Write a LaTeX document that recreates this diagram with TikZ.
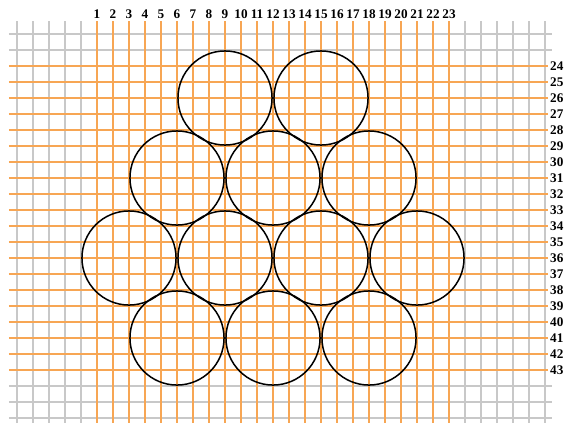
\documentclass[tikz,border=0pt]{standalone}
\usepackage{fontspec}
\setmainfont{Liberation Serif}
\definecolor{linegray}{RGB}{200,200,200}
\definecolor{lineorange}{RGB}{247,166,84}
\tikzset{
    grayline/.style={draw=linegray,line width=0.7pt},
    orangeline/.style={draw=lineorange,line width=0.95pt},
    rod/.style={draw=black,line width=0.75pt},
    numlabel/.style={font=\fontsize{6.6}{7}\selectfont\bfseries,inner sep=0pt},
}
\begin{document}
\begin{tikzpicture}[x=8pt,y=-8pt]
            \useasboundingbox[fill=white] (-5.0625,19.875) rectangle (30.25,46.31);
            % gray part of the grid
            \foreach \c in {-4,...,0,24,25,...,29}
                \draw[grayline] (\c,21.2) -- (\c,46.31);
            \foreach \r in {22,23,44,45,46}
                \draw[grayline] (-4.5,\r) -- (29.45,\r);
            % orange part of the grid
            \foreach \r in {24,...,43}
                \draw[orangeline] (-4.5,\r) -- (29.2,\r);
            \foreach \c in {1,...,23}
                \draw[orangeline] (\c,21.2) -- (\c,46.31);
            % numbers
            \foreach \c in {1,...,23}
                \node[numlabel,anchor=base] (col\c) at (\c,21.05) {\c};
            \foreach \r in {24,...,43}
                \node[numlabel,anchor=west] (row\r) at (29.3,\r) {\r};
            % circles
            \foreach \c/\r in {9/26,15/26,6/31,12/31,18/31,3/36,9/36,15/36,21/36,6/41,12/41,18/41}
                \draw[rod] (\c,\r) circle[radius=2.94];
        \end{tikzpicture}
\end{document}
